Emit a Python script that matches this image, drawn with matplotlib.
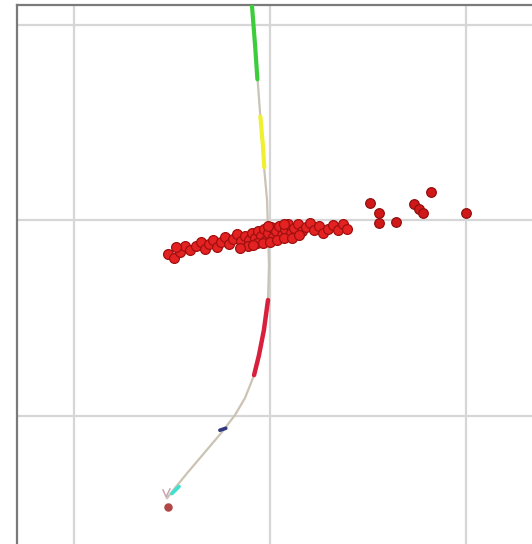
import matplotlib
matplotlib.use("Agg")
import matplotlib.pyplot as plt

# red point cloud (x, y)
cloud_x = [-51.9, -48.9, -45.8, -43.3, -40.7, -37.7, -35.1, -33.1, -31.0, -29.0,
           -27.0, -24.9, -22.9, -20.9, -18.8, -16.8, -14.8, -12.7, -10.7, -9.2,
           -7.6, -6.1, -4.6, -3.1, -2.0, -1.0, 0.5, 1.5, 3.1, 4.6,
           6.1, 7.6, 9.2, 10.7, 12.2, 14.3, 16.3, 18.3, 20.4, 22.4,
           24.9, 27.0, 29.5, 32.1, 34.6, 37.2, 39.2, -6.6, -3.6, 0.0,
           3.6, 7.1, 11.2, 14.8, -11.2, -8.7, -15.3, -1.0, 7.1, -47.8]
cloud_y = [-17.4, -19.4, -16.4, -13.3, -15.3, -13.3, -11.3, -14.8, -12.3, -10.2,
           -13.8, -11.3, -8.7, -12.3, -9.7, -7.2, -10.7, -8.2, -10.2, -6.6,
           -9.2, -5.6, -8.2, -4.6, -10.2, -6.6, -3.6, -8.7, -5.6, -3.1,
           -7.7, -4.6, -2.0, -6.6, -4.1, -2.0, -5.6, -3.6, -1.5, -5.1,
           -3.1, -6.6, -4.6, -2.6, -5.1, -2.0, -4.6, -11.8, -11.8, -11.3,
           -10.2, -9.2, -9.2, -7.7, -13.3, -12.8, -14.3, -3.1, -2.0, -13.8]

outlier_x = [50.9, 55.5, 55.5, 64.1, 73.3, 75.8, 77.9, 81.9, 99.8]
outlier_y = [8.7, 3.6, -1.5, -1.0, 8.2, 5.6, 3.6, 14.3, 3.6]

# trajectory
path_x = [-9.2, -7.6, -6.1, -4.6, -3.1, -1.5, -1.0, -0.5, -1.0, -3.1,
          -5.6, -8.1, -12.7, -17.8, -24.4, -33.1, -41.7, -48.4, -52.4]
path_y = [110.0, 89.5, 69.1, 48.6, 28.1, 10.2, -5.1, -23.0, -40.9, -56.3,
          -69.1, -79.3, -91.0, -99.7, -108.4, -118.7, -128.9, -137.1, -142.2]

green_x = [-9.2, -7.6, -6.4]
green_y = [110.0, 89.5, 72.0]
yellow_x = [-4.9, -3.6, -2.9]
yellow_y = [53.0, 38.0, 27.0]
red_x = [-1.0, -3.1, -5.6, -8.1]
red_y = [-40.9, -56.3, -69.1, -79.3]
blue_x = [-25.5, -22.5]
blue_y = [-107.5, -106.5]
cyan_x = [-49.9, -46.3]
cyan_y = [-139.9, -136.3]
end_x = [-51.9]
end_y = [-146.8]
vee_x = [-54.5, -52.9, -50.9]
vee_y = [-138.0, -141.6, -137.5]

fig = plt.figure(figsize=(5.32, 5.44), dpi=100)
ax = fig.add_axes([17 / 532, 0, 1 - 17 / 532, 1 - 5 / 544])

ax.set_xlim(-128.8, 133.4)
ax.set_ylim(-165.7, 110.0)
ax.set_xticks([-100, 0, 100])
ax.set_yticks([-100, 0, 100])
ax.tick_params(length=0, labelbottom=False, labelleft=False)
ax.grid(True, color="#d6d6d6", linewidth=1.6)
ax.set_axisbelow(True)

for side in ["right", "bottom"]:
    ax.spines[side].set_visible(False)
for side in ["left", "top"]:
    ax.spines[side].set_color("#7a7a7a")
    ax.spines[side].set_linewidth(1.6)

ax.plot(path_x, path_y, color="#cbc3b3", linewidth=1.6, zorder=2)
ax.plot(green_x, green_y, color="#3ccc3c", linewidth=3.0, solid_capstyle="round", zorder=3)
ax.plot(yellow_x, yellow_y, color="#f0f030", linewidth=3.0, solid_capstyle="round", zorder=3)
ax.plot(red_x, red_y, color="#d8203c", linewidth=3.2, solid_capstyle="round", zorder=3)
ax.plot(blue_x, blue_y, color="#303880", linewidth=2.6, solid_capstyle="round", zorder=3)
ax.plot(cyan_x, cyan_y, color="#40e0d0", linewidth=2.6, solid_capstyle="round", zorder=3)
ax.plot(vee_x, vee_y, color="#c8a0a8", linewidth=1.0, zorder=3)
ax.scatter(end_x, end_y, s=26, marker="o", color="#b04848", zorder=3)

ax.scatter(cloud_x, cloud_y, s=50, color="#e42222", edgecolors="#a01010",
           linewidths=0.9, zorder=4)
ax.scatter(outlier_x, outlier_y, s=48, color="#d01818", edgecolors="#901010",
           linewidths=0.9, zorder=4)

fig.savefig("out.png", dpi=100)
